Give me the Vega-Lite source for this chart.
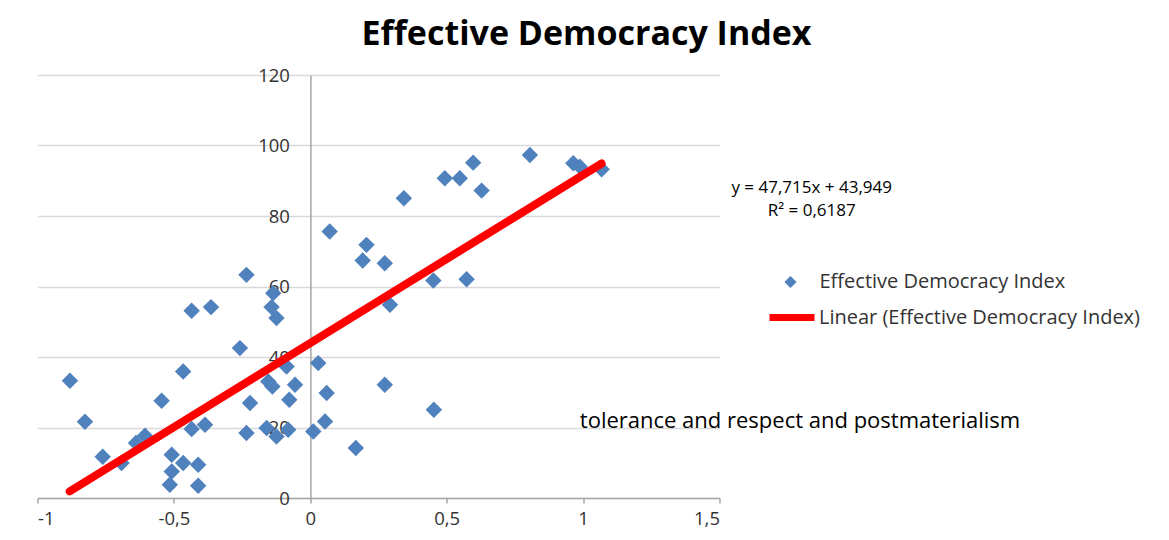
{
  "$schema": "https://vega.github.io/schema/vega-lite/v6.json",
  "width": 682,
  "height": 423,
  "autosize": {"type": "none"},
  "padding": {"left": 37.5, "top": 75, "right": 449.5, "bottom": 42},
  "background": "white",
  "title": {
    "text": "Effective Democracy Index",
    "font": "Open Sans",
    "fontSize": 34,
    "fontWeight": "bold",
    "color": "#000000",
    "anchor": "middle",
    "dx": 208,
    "offset": 14
  },
  "config": {
    "font": "Open Sans",
    "view": {"stroke": null}
  },
  "datasets": {
    "points": [
      {"x": -0.881, "y": 33.25, "series": "Effective Democracy Index"},
      {"x": -0.826, "y": 21.63, "series": "Effective Democracy Index"},
      {"x": -0.761, "y": 11.71, "series": "Effective Democracy Index"},
      {"x": -0.692, "y": 9.92, "series": "Effective Democracy Index"},
      {"x": -0.639, "y": 15.59, "series": "Effective Democracy Index"},
      {"x": -0.606, "y": 17.66, "series": "Effective Democracy Index"},
      {"x": -0.545, "y": 27.58, "series": "Effective Democracy Index"},
      {"x": -0.466, "y": 35.89, "series": "Effective Democracy Index"},
      {"x": -0.508, "y": 12.27, "series": "Effective Democracy Index"},
      {"x": -0.466, "y": 9.92, "series": "Effective Democracy Index"},
      {"x": -0.508, "y": 7.54, "series": "Effective Democracy Index"},
      {"x": -0.515, "y": 3.77, "series": "Effective Democracy Index"},
      {"x": -0.411, "y": 9.44, "series": "Effective Democracy Index"},
      {"x": -0.411, "y": 3.49, "series": "Effective Democracy Index"},
      {"x": -0.435, "y": 19.56, "series": "Effective Democracy Index"},
      {"x": -0.386, "y": 20.78, "series": "Effective Democracy Index"},
      {"x": -0.435, "y": 53.1, "series": "Effective Democracy Index"},
      {"x": -0.364, "y": 54.15, "series": "Effective Democracy Index"},
      {"x": -0.234, "y": 63.3, "series": "Effective Democracy Index"},
      {"x": -0.258, "y": 42.52, "series": "Effective Democracy Index"},
      {"x": -0.087, "y": 37.31, "series": "Effective Democracy Index"},
      {"x": -0.154, "y": 33.05, "series": "Effective Democracy Index"},
      {"x": -0.139, "y": 31.64, "series": "Effective Democracy Index"},
      {"x": -0.056, "y": 32.12, "series": "Effective Democracy Index"},
      {"x": -0.221, "y": 26.93, "series": "Effective Democracy Index"},
      {"x": -0.077, "y": 27.87, "series": "Effective Democracy Index"},
      {"x": -0.234, "y": 18.43, "series": "Effective Democracy Index"},
      {"x": -0.16, "y": 19.84, "series": "Effective Democracy Index"},
      {"x": -0.124, "y": 17.46, "series": "Effective Democracy Index"},
      {"x": -0.081, "y": 19.36, "series": "Effective Democracy Index"},
      {"x": -0.136, "y": 58.12, "series": "Effective Democracy Index"},
      {"x": -0.142, "y": 54.15, "series": "Effective Democracy Index"},
      {"x": -0.124, "y": 51.03, "series": "Effective Democracy Index"},
      {"x": 0.029, "y": 38.27, "series": "Effective Democracy Index"},
      {"x": 0.06, "y": 29.77, "series": "Effective Democracy Index"},
      {"x": 0.054, "y": 21.72, "series": "Effective Democracy Index"},
      {"x": 0.011, "y": 18.88, "series": "Effective Democracy Index"},
      {"x": 0.273, "y": 32.12, "series": "Effective Democracy Index"},
      {"x": 0.167, "y": 14.17, "series": "Effective Democracy Index"},
      {"x": 0.453, "y": 25.03, "series": "Effective Democracy Index"},
      {"x": 0.071, "y": 75.58, "series": "Effective Democracy Index"},
      {"x": 0.206, "y": 71.81, "series": "Effective Democracy Index"},
      {"x": 0.192, "y": 67.36, "series": "Effective Democracy Index"},
      {"x": 0.273, "y": 66.62, "series": "Effective Democracy Index"},
      {"x": 0.292, "y": 54.8, "series": "Effective Democracy Index"},
      {"x": 0.451, "y": 61.69, "series": "Effective Democracy Index"},
      {"x": 0.573, "y": 62.08, "series": "Effective Democracy Index"},
      {"x": 0.343, "y": 85.05, "series": "Effective Democracy Index"},
      {"x": 0.493, "y": 90.72, "series": "Effective Democracy Index"},
      {"x": 0.548, "y": 90.72, "series": "Effective Democracy Index"},
      {"x": 0.597, "y": 95.14, "series": "Effective Democracy Index"},
      {"x": 0.628, "y": 87.2, "series": "Effective Democracy Index"},
      {"x": 0.805, "y": 97.32, "series": "Effective Democracy Index"},
      {"x": 0.964, "y": 94.97, "series": "Effective Democracy Index"},
      {"x": 0.988, "y": 94.0, "series": "Effective Democracy Index"},
      {"x": 1.068, "y": 93.27, "series": "Effective Democracy Index"}
    ],
    "trend": [
      {"x": -0.882, "y": 1.9, "series": "Linear (Effective Democracy Index)"},
      {"x": 1.068, "y": 94.9, "series": "Linear (Effective Democracy Index)"}
    ]
  },
  "layer": [
    {
      "data": {"name": "points"},
      "mark": {"type": "point", "shape": "diamond", "filled": true, "size": 270, "opacity": 1},
      "encoding": {
        "x": {
          "field": "x",
          "type": "quantitative",
          "scale": {"domain": [-1, 1.5], "nice": false, "zero": false},
          "axis": {
            "title": null,
            "values": [-1, -0.5, 0, 0.5, 1, 1.5],
            "grid": false,
            "domainColor": "#A6A6A6",
            "domainWidth": 1.5,
            "tickColor": "#A6A6A6",
            "tickWidth": 1.5,
            "tickSize": 5,
            "labelFont": "Open Sans",
            "labelFontSize": 18.5,
            "labelColor": "#333333",
            "labelPadding": 6,
            "labelExpr": "replace(toString(datum.value), '.', ',')"
          }
        },
        "y": {
          "field": "y",
          "type": "quantitative",
          "scale": {"domain": [0, 120], "nice": false, "zero": true},
          "axis": {
            "title": null,
            "values": [0, 20, 40, 60, 80, 100, 120],
            "offset": -272.9,
            "grid": true,
            "gridColor": "#D9D9D9",
            "gridWidth": 1.5,
            "domainColor": "#A6A6A6",
            "domainWidth": 1.5,
            "ticks": false,
            "labelFont": "Open Sans",
            "labelFontSize": 18.5,
            "labelColor": "#333333",
            "labelPadding": 21
          }
        },
        "fill": {
          "field": "series",
          "type": "nominal",
          "scale": {"domain": ["Effective Democracy Index"], "range": ["#4F81BD"]},
          "legend": {
            "title": null,
            "orient": "none",
            "legendX": 743,
            "legendY": 197,
            "padding": 0,
            "symbolType": "diamond",
            "symbolSize": 150,
            "symbolStrokeWidth": 0,
            "labelOffset": 19,
            "labelLimit": 0,
            "labelFont": "Open Sans",
            "labelFontSize": 20,
            "labelColor": "#333333"
          }
        }
      }
    },
    {
      "data": {"name": "trend"},
      "mark": {"type": "line", "strokeWidth": 8, "strokeCap": "round"},
      "encoding": {
        "x": {"field": "x", "type": "quantitative"},
        "y": {"field": "y", "type": "quantitative"},
        "stroke": {
          "field": "series",
          "type": "nominal",
          "scale": {"domain": ["Linear (Effective Democracy Index)"], "range": ["#FF0000"]},
          "legend": {
            "title": null,
            "orient": "none",
            "legendX": 728.5,
            "legendY": 216.5,
            "padding": 0,
            "symbolType": "stroke",
            "symbolSize": 2025,
            "symbolStrokeWidth": 7,
            "labelOffset": 1,
            "labelLimit": 0,
            "labelFont": "Open Sans",
            "labelFontSize": 20,
            "labelColor": "#333333"
          }
        }
      }
    },
    {
      "data": {"values": [{}]},
      "mark": {"type": "text", "align": "center", "baseline": "middle", "lineBreak": "\n", "lineHeight": 23, "font": "Open Sans", "fontSize": 17, "color": "#000000"},
      "encoding": {
        "x": {"datum": 1.838, "type": "quantitative"},
        "y": {"datum": 87.85, "type": "quantitative"},
        "text": {"value": "y = 47,715x + 43,949\nR² = 0,6187"}
      }
    },
    {
      "data": {"values": [{}]},
      "mark": {"type": "text", "align": "left", "baseline": "middle", "font": "Open Sans", "fontSize": 22, "color": "#000000"},
      "encoding": {
        "x": {"datum": 0.988, "type": "quantitative"},
        "y": {"datum": 21.9, "type": "quantitative"},
        "text": {"value": "tolerance and respect and postmaterialism"}
      }
    }
  ]
}
